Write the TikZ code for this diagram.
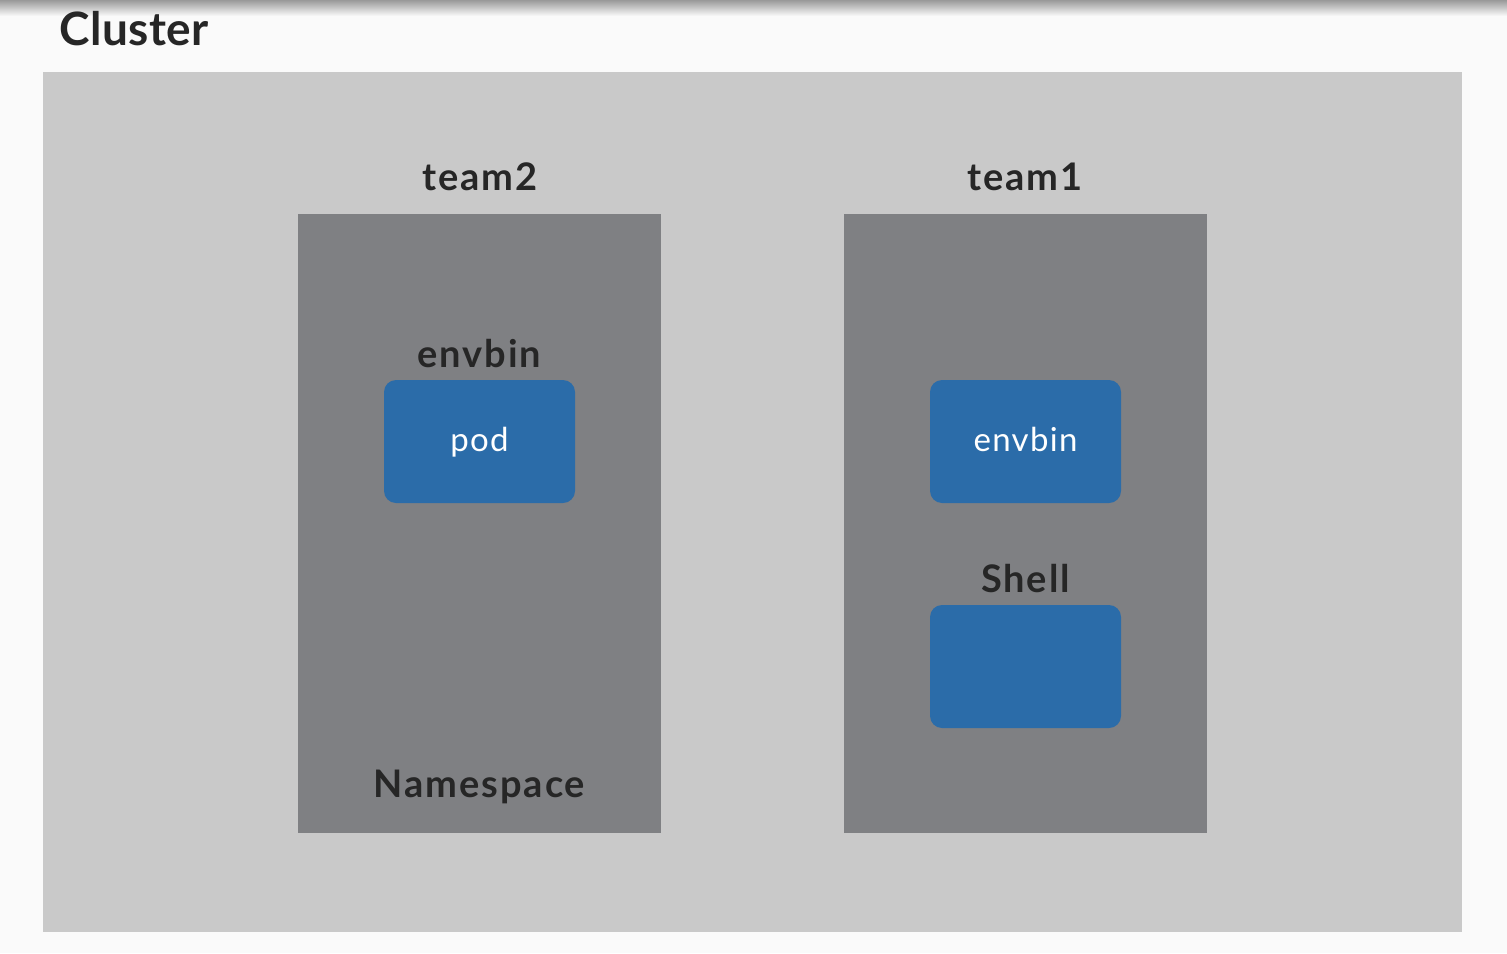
\documentclass[tikz,border=0pt]{standalone}
\usepackage{fontspec}
\setmainfont{Lato}
\usetikzlibrary{positioning}
\definecolor{bgwhite}{HTML}{FAFAFA}
\definecolor{clustergray}{HTML}{C9C9C9}
\definecolor{nsgray}{HTML}{7F8083}
\definecolor{podblue}{HTML}{2B6CA9}
\definecolor{txtdark}{HTML}{262626}
\tikzset{
  nsbox/.style={fill=nsgray, draw=none},
  podbox/.style={fill=podblue, draw=none, rounded corners=12pt},
  lbl/.style={text=txtdark, font=\fontsize{38}{42}\selectfont\bfseries\addfontfeature{LetterSpace=5}, inner sep=0pt},
  podlbl/.style={text=white, font=\fontsize{33}{38}\selectfont\addfontfeature{LetterSpace=4}, inner sep=0pt},
}
\begin{document}
\begin{tikzpicture}[x=1pt,y=-1pt]
\useasboundingbox (0,0) rectangle (1507,953);
\fill[bgwhite] (0,0) rectangle (1507,953);
\shade[top color=gray!80, bottom color=bgwhite] (0,0) rectangle (1507,16);
% cluster
\fill[clustergray] (43,72) rectangle (1462,932);
\node[lbl, font=\fontsize{46}{50}\selectfont\bfseries\addfontfeature{LetterSpace=1}, anchor=base west] (cluster) at (59,45) {Cluster};
% namespaces
\fill[nsbox] (298,214) rectangle (661,833);
\fill[nsbox] (844,214) rectangle (1207,833);
\node[lbl, anchor=base] (team2) at (480,190) {team2};
\node[lbl, anchor=base] (team1) at (1025,190) {team1};
% pods
\fill[podbox] (384,380) rectangle (575,503);
\node[podlbl, anchor=base] (pod) at (479.5,451) {pod};
\node[lbl, anchor=base] (envbinlbl) at (479.5,367) {envbin};
\fill[podbox] (930,380) rectangle (1121,503);
\node[podlbl, anchor=base] (envbin) at (1025.5,451) {envbin};
\node[lbl, anchor=base] (shelllbl) at (1025.5,592) {Shell};
\fill[podbox] (930,605) rectangle (1121,728);
\node[lbl, anchor=base] (nslbl) at (479.5,797) {Namespace};
\end{tikzpicture}
\end{document}
